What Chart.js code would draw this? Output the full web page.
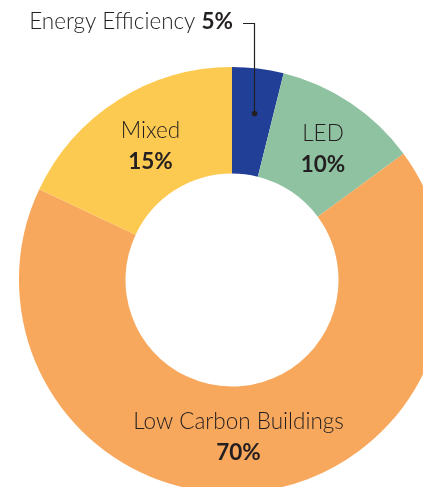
<!DOCTYPE html>
<html>
<head>
<meta charset="utf-8">
<script src="https://cdn.jsdelivr.net/npm/chart.js@4"></script>
<style>
  html, body { margin: 0; padding: 0; background: #fff; overflow: hidden; }
  #wrap { position: absolute; left: 0; top: 0; width: 464px; height: 560px; }
</style>
</head>
<body>
<div id="wrap"><canvas id="donut"></canvas></div>
<script>
// Shares as drawn (angles) and the printed labels
const categories = ["Energy Efficiency", "LED", "Low Carbon Buildings", "Mixed"];
const shares = [3.9, 11.0, 67.1, 18.0];
const shareLabels = ["5%", "10%", "70%", "15%"];
const colors = ["#223f98", "#8fc2a1", "#f8a85d", "#fdca51"];

const textColor = "#231f20";
const fontFamily = "Lato, 'Open Sans', sans-serif";

// Draws the two-line labels inside the ring, and the leader for the small slice
const labelPlugin = {
  id: "ringLabels",
  afterDatasetsDraw(chart) {
    const ctx = chart.ctx;
    const arcs = chart.getDatasetMeta(0).data;
    ctx.save();
    ctx.fillStyle = textColor;
    ctx.textAlign = "center";
    ctx.textBaseline = "middle";

    // small nudges so labels sit where the original put them
    const nudge = [[0, 0], [2, 0], [-9, -3], [4, 0]];

    arcs.forEach((arc, i) => {
      if (i === 0) return; // small slice is labelled outside
      const pos = arc.tooltipPosition();
      const x = pos.x + nudge[i][0];
      const y = pos.y + nudge[i][1];
      ctx.font = "300 22.5px " + fontFamily;
      ctx.fillText(categories[i], x, y - 14);
      ctx.font = "bold 22.5px " + fontFamily;
      ctx.fillText(shareLabels[i], x, y + 17);
    });

    // outside label for the first slice
    const first = arcs[0];
    const mid = first.tooltipPosition();
    ctx.textAlign = "right";
    ctx.font = "bold 22.5px " + fontFamily;
    const pct = shareLabels[0];
    const pctW = ctx.measureText(pct).width;
    const right = 233;
    ctx.fillText(pct, right, 22);
    ctx.font = "300 22.5px " + fontFamily;
    ctx.fillText(categories[0] + " ", right - pctW, 22);

    const lx = Math.round(mid.x) + 2.5;
    const ly = mid.y - 8;
    ctx.strokeStyle = textColor;
    ctx.lineWidth = 1.2;
    ctx.beginPath();
    ctx.moveTo(243, 23.5);
    ctx.lineTo(lx, 23.5);
    ctx.lineTo(lx, ly);
    ctx.stroke();
    ctx.beginPath();
    ctx.arc(lx, ly, 2.8, 0, Math.PI * 2);
    ctx.fill();
    ctx.restore();
  }
};

const chart = new Chart(document.getElementById("donut").getContext("2d"), {
  type: "doughnut",
  data: {
    labels: categories,
    datasets: [{
      data: shares,
      backgroundColor: colors,
      borderWidth: 0,
      hoverOffset: 0
    }]
  },
  options: {
    responsive: true,
    maintainAspectRatio: false,
    animation: false,
    cutout: "50%",
    layout: { padding: { left: 19, top: 67, right: 19, bottom: 67 } },
    plugins: {
      legend: { display: false },
      tooltip: { enabled: false }
    }
  },
  plugins: [labelPlugin]
});
</script>
</body>
</html>
